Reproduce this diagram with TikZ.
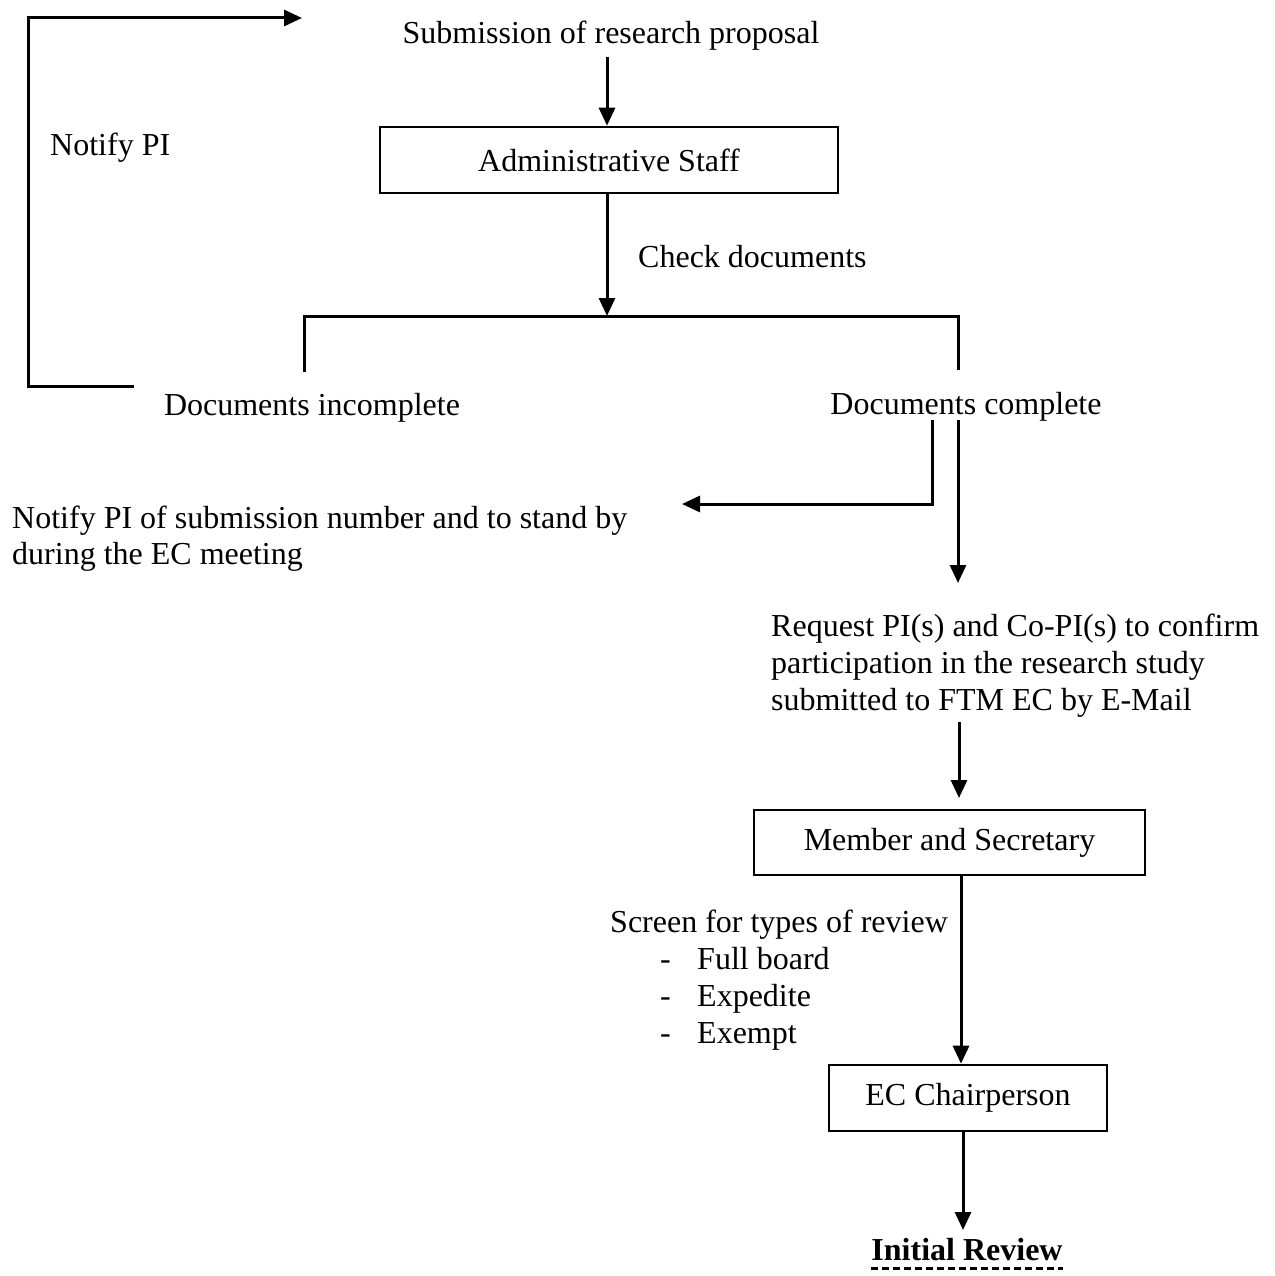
\documentclass[tikz,border=0pt]{standalone}
\usepackage{fontspec}
\setmainfont{Liberation Serif}
\usetikzlibrary{arrows.meta}
\begin{document}
\begin{tikzpicture}[x=1pt,y=-1pt,
  every node/.style={font=\fontsize{32}{37}\selectfont, inner sep=0pt},
  txt/.style={anchor=base},
  ltxt/.style={anchor=base west},
  boxn/.style={draw, line width=2.6pt, anchor=center},
  conn/.style={line width=3pt},
  arr/.style={conn, -{Triangle[width=16pt,length=18pt]}}]
\useasboundingbox[fill=white] (0,0) rectangle (1274,1276);

% texts and boxes
\node[txt] (sub) at (611,44) {Submission of research proposal};
\node[boxn, minimum width=458pt, minimum height=66pt] (admin) at (609,160) {Administrative Staff};
\node[ltxt] (npi) at (50,156) {Notify PI};
\node[ltxt] (chk) at (638,267) {Check documents};
\node[txt] (dinc) at (312,415) {Documents incomplete};
\node[txt] (dcom) at (966,414) {Documents complete};
\node[ltxt] (np1) at (12,528) {Notify PI of submission number and to stand by};
\node[ltxt] (np2) at (12,564) {during the EC meeting};
\node[ltxt] (rq1) at (771,636) {Request PI(s) and Co-PI(s) to confirm};
\node[ltxt] (rq2) at (771,673) {participation in the research study};
\node[ltxt] (rq3) at (771,710) {submitted to FTM EC by E-Mail};
\node[boxn, minimum width=391pt, minimum height=65pt] (mem) at (949.5,842.5) {Member and Secretary};
\node[ltxt] (scr) at (610,932) {Screen for types of review};
\node[ltxt] (ds1) at (660,969) {-};
\node[ltxt] (it1) at (697,969) {Full board};
\node[ltxt] (ds2) at (660,1006) {-};
\node[ltxt] (it2) at (697,1006) {Expedite};
\node[ltxt] (ds3) at (660,1043) {-};
\node[ltxt] (it3) at (697,1043) {Exempt};
\node[boxn, minimum width=278pt, minimum height=66pt] (ecc) at (968,1098) {EC Chairperson};
\node[txt, font=\fontsize{32}{37}\selectfont\bfseries] (ir) at (967,1260) {Initial Review};
\draw[line width=3pt, dash pattern=on 7pt off 4pt] ([yshift=-8pt]ir.base west) -- ([yshift=-8pt]ir.base east);

% coordinates
\coordinate (l1) at (134,386);
\coordinate (l2) at (28,386);
\coordinate (l3) at (28,18);
\coordinate (l4) at (302,18);
\coordinate (c1) at (607,57);
\coordinate (br) at (607,316);
\coordinate (bl) at (304,372);
\coordinate (brr) at (958,370);
\coordinate (d1) at (932,420);
\coordinate (d2) at (932,504);
\coordinate (d3) at (682,504);
\coordinate (e1) at (958,420);
\coordinate (e2) at (958,583);
\coordinate (f1) at (959,722);
\coordinate (f2) at (959,798);
\coordinate (g1) at (961,0);
\coordinate (h1) at (963,0);
\coordinate (h2) at (963,1230);

% connectors
\draw[arr] (l1) -- (l2) -- (l3) -- (l4);
\draw[arr] (c1) -- (c1 |- admin.north);
\draw[arr] (admin.south -| br) -- (br);
\draw[conn] (bl) -- (bl |- br) -- (brr |- br) -- (brr);
\draw[arr] (d1) -- (d2) -- (d3);
\draw[arr] (e1) -- (e2);
\draw[arr] (f1) -- (f2);
\draw[arr] (mem.south -| g1) -- (ecc.north -| g1);
\draw[arr] (ecc.south -| h1) -- (h2);
\end{tikzpicture}
\end{document}
